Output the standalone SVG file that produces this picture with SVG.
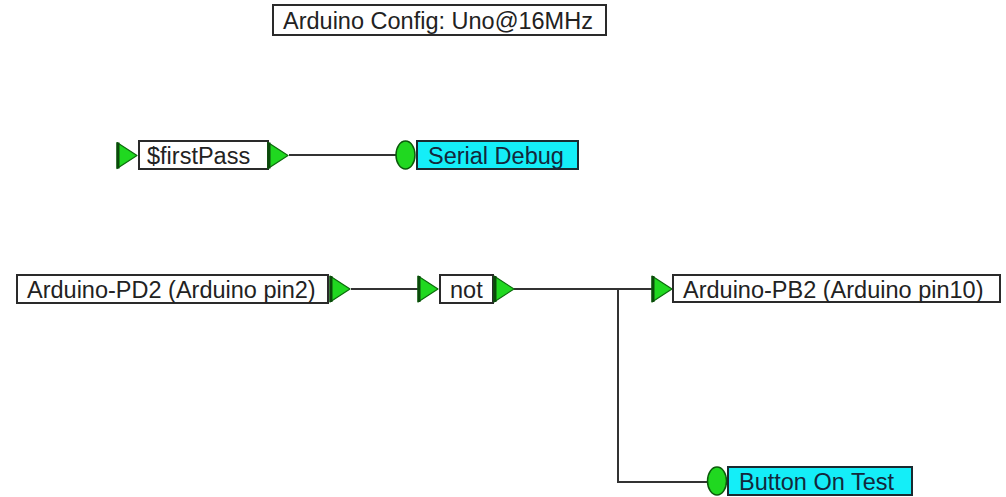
<svg xmlns="http://www.w3.org/2000/svg" width="1006" height="497" viewBox="0 0 1006 497">
  <style>
    .box { fill: #ffffff; stroke: #2a2a2a; stroke-width: 2; }
    .cyan { fill: #14eef8; stroke: #1a2a30; stroke-width: 2; }
    .lbl { font-family: "Liberation Sans", Arial, sans-serif; font-size: 23.5px; fill: #222222; }
    .lblc { font-family: "Liberation Sans", Arial, sans-serif; font-size: 23.5px; fill: #13283c; }
    .wire { fill: none; stroke: #333333; stroke-width: 2; }
  </style>
  <defs>
    <!-- green pin triangle: base at x=0, tip at x=20 -->
    <g id="pin">
      <polygon points="0,-13 20,0 0,13" fill="#20d820" stroke="#0b6b0b" stroke-width="1.2" stroke-linejoin="round"/>
      <line x1="1" y1="-13" x2="1" y2="13" stroke="#0a4a0a" stroke-width="3"/>
    </g>
    <!-- green oval input marker -->
    <g id="oval">
      <ellipse cx="0" cy="0" rx="9.5" ry="14" fill="#20d820" stroke="#0b5a0b" stroke-width="1.5"/>
    </g>
  </defs>

  <!-- connectors -->
  <g id="connectors">
    <line class="wire" x1="289" y1="155" x2="397" y2="155"/>
    <line class="wire" x1="351" y1="289" x2="419" y2="289"/>
    <line class="wire" x1="514" y1="289" x2="653" y2="289"/>
    <polyline class="wire" points="618,289 618,482 708,482"/>
  </g>

  <g id="config">
    <rect class="box" x="273" y="5" width="333" height="30"/>
    <text class="lbl" x="283" y="29">Arduino Config: Uno@16MHz</text>
  </g>

  <g id="firstPass">
    <use href="#pin" x="117" y="155.5"/>
    <rect class="box" x="139" y="141" width="129" height="28"/>
    <text class="lbl" x="147" y="164">$firstPass</text>
    <use href="#pin" x="268" y="155.5"/>
  </g>

  <g id="serialDebug">
    <use href="#oval" x="405.5" y="155"/>
    <rect class="cyan" x="417" y="141" width="161" height="28"/>
    <text class="lblc" x="428" y="164">Serial Debug</text>
  </g>

  <g id="pd2">
    <rect class="box" x="17" y="275" width="311" height="28"/>
    <text class="lbl" x="27" y="298">Arduino-PD2 (Arduino pin2)</text>
    <use href="#pin" x="330" y="289"/>
  </g>

  <g id="not">
    <use href="#pin" x="418" y="289"/>
    <rect class="box" x="440" y="275" width="53" height="28"/>
    <text class="lbl" x="450" y="298">not</text>
    <use href="#pin" x="494" y="289"/>
  </g>

  <g id="pb2">
    <use href="#pin" x="652" y="289"/>
    <rect class="box" x="673" y="275" width="327" height="27"/>
    <text class="lbl" x="683" y="298">Arduino-PB2 (Arduino pin10)</text>
  </g>

  <g id="buttonOnTest">
    <use href="#oval" x="717" y="481"/>
    <rect class="cyan" x="728" y="467" width="184" height="28"/>
    <text class="lblc" x="739" y="490">Button On Test</text>
  </g>
</svg>
